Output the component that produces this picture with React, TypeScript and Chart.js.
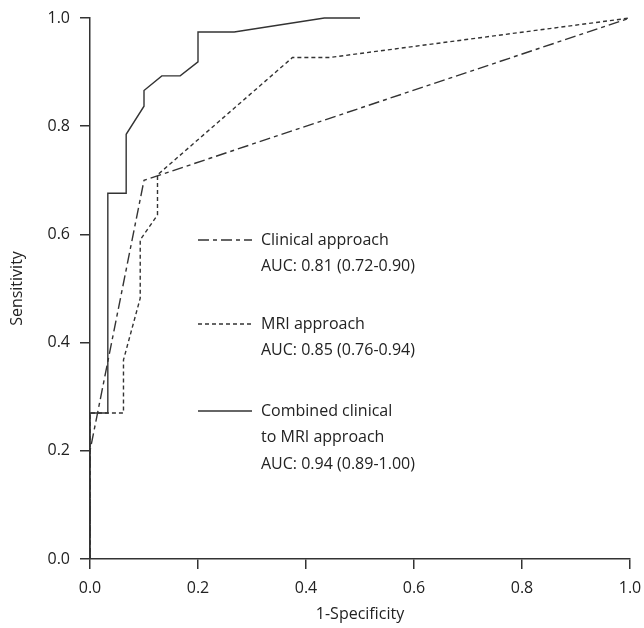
import React, { useEffect, useRef } from "react";
import { Chart, registerables } from "chart.js";

Chart.register(...registerables);

// ---- data ----
const clinicalX = [0, 0, 0.1, 1];
const clinicalY = [0, 0.2, 0.7, 1];

const mriX = [0, 0, 0.062, 0.062, 0.093, 0.093, 0.125, 0.125, 0.375, 0.444, 1];
const mriY = [0, 0.27, 0.27, 0.368, 0.482, 0.59, 0.636, 0.71, 0.927, 0.927, 1];

const combinedX = [0, 0, 0.033, 0.033, 0.067, 0.067, 0.1, 0.1, 0.133, 0.167, 0.2, 0.2, 0.267, 0.434, 0.5];
const combinedY = [0, 0.27, 0.27, 0.676, 0.676, 0.785, 0.837, 0.866, 0.893, 0.893, 0.919, 0.974, 0.974, 1, 1];

const xTickLabels = ["0.0", "0.2", "0.4", "0.6", "0.8", "1.0"];
const yTickLabels = ["0.0", "0.2", "0.4", "0.6", "0.8", "1.0"];

const legendItems = [
  { lines: ["Clinical approach", "AUC: 0.81 (0.72-0.90)"], dash: [11, 4, 4, 4] },
  { lines: ["MRI approach", "AUC: 0.85 (0.76-0.94)"], dash: [4, 3] },
  { lines: ["Combined clinical", "to MRI approach", "AUC: 0.94 (0.89-1.00)"], dash: [] as number[] },
];

const FONT = "'Open Sans', sans-serif";
const INK = "#333333";
const TEXT = "#222222";

const toPts = (xs: number[], ys: number[]) => xs.map((x, i) => ({ x, y: ys[i] }));

const legendPlugin = {
  id: "rocLegend",
  afterDraw(chart: any) {
    const ctx = chart.ctx;
    const rows = [240, 324, 411];
    ctx.save();
    ctx.font = `16px ${FONT}`;
    ctx.fillStyle = TEXT;
    ctx.textBaseline = "middle";
    ctx.textAlign = "left";
    legendItems.forEach((item, i) => {
      const y0 = rows[i];
      ctx.beginPath();
      ctx.strokeStyle = INK;
      ctx.lineWidth = 1.4;
      ctx.setLineDash(item.dash);
      ctx.moveTo(198, y0);
      ctx.lineTo(252, y0);
      ctx.stroke();
      ctx.setLineDash([]);
      item.lines.forEach((t, j) => {
        ctx.fillText(t, 261, y0 + j * 26.8);
      });
    });
    ctx.restore();
  },
};

export default function App() {
  const ref = useRef<HTMLCanvasElement | null>(null);

  useEffect(() => {
    if (!ref.current) return;
    const mk = (label: string, xs: number[], ys: number[], dash: number[]) => ({
      label,
      data: toPts(xs, ys),
      borderColor: INK,
      backgroundColor: INK,
      borderWidth: 1.4,
      borderDash: dash,
      pointRadius: 0,
      tension: 0,
      fill: false,
      showLine: true,
      clip: 4,
    });
    const tickFont = { family: FONT, size: 16 };
    const chart = new Chart(ref.current, {
      type: "line",
      data: {
        datasets: [
          mk("Clinical approach", clinicalX, clinicalY, legendItems[0].dash),
          mk("MRI approach", mriX, mriY, legendItems[1].dash),
          mk("Combined clinical to MRI approach", combinedX, combinedY, legendItems[2].dash),
        ],
      },
      options: {
        animation: false,
        responsive: true,
        maintainAspectRatio: false,
        layout: { padding: { top: 18, right: 14, left: 0, bottom: 0 } },
        plugins: { legend: { display: false }, tooltip: { enabled: false } },
        scales: {
          x: {
            type: "linear",
            min: 0,
            max: 1,
            ticks: {
              stepSize: 0.2,
              font: tickFont,
              color: TEXT,
              padding: 10,
              maxRotation: 0,
              callback: (_v: any, i: number) => xTickLabels[i],
            },
            grid: { drawOnChartArea: false, drawTicks: true, tickLength: 10, color: INK, lineWidth: 1.5 },
            border: { display: true, color: INK, width: 1.5 },
            title: { display: true, text: "1-Specificity", font: tickFont, color: TEXT, padding: { top: 0, bottom: 4 } },
            afterFit: (s: any) => {
              s.height = 69;
              s.paddingLeft = 0;
              s.paddingRight = 0;
            },
          },
          y: {
            type: "linear",
            min: 0,
            max: 1,
            ticks: {
              stepSize: 0.2,
              font: tickFont,
              color: TEXT,
              padding: 10,
              callback: (_v: any, i: number) => yTickLabels[i],
            },
            grid: { drawOnChartArea: false, drawTicks: true, tickLength: 10, color: INK, lineWidth: 1.5 },
            border: { display: true, color: INK, width: 1.5 },
            title: { display: true, text: "Sensitivity", font: tickFont, color: TEXT, padding: { top: 8, bottom: 0 } },
            afterFit: (s: any) => {
              s.width = 90;
              s.paddingTop = 0;
              s.paddingBottom = 0;
            },
          },
        },
      },
      plugins: [legendPlugin],
    } as any);
    return () => chart.destroy();
  }, []);

  return (
    <div style={{ position: "fixed", left: 0, top: 0, width: 644, height: 628, background: "#fff" }}>
      <canvas ref={ref} />
    </div>
  );
}
